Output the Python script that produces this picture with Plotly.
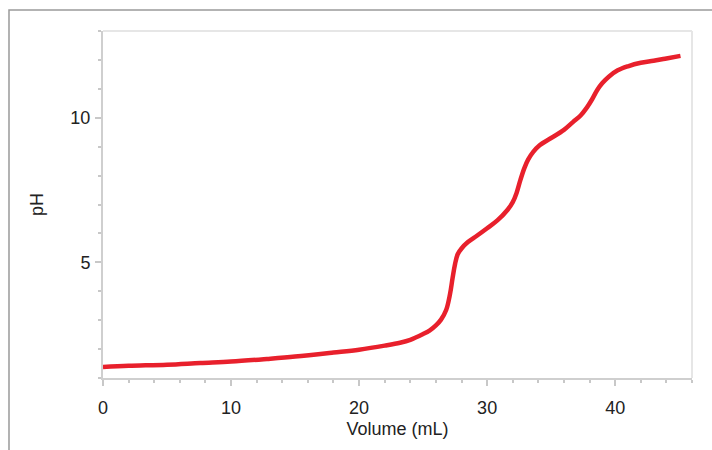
import plotly.graph_objects as go

volume_ml = [0, 2, 5, 7.6, 10, 12.8, 15, 18, 20, 22, 23.2, 24, 25, 25.5, 26, 26.4, 26.8, 27.1, 27.3, 27.5,
             27.7, 28, 28.5, 29.2, 30, 30.8, 31.6, 32, 32.3, 32.6, 32.9, 33.2, 33.6, 34.1, 35, 36, 36.7,
             37.3, 37.8, 38.2, 38.6, 39, 39.5, 40.2, 41, 42, 43, 44, 45.1]
ph_values = [1.38, 1.42, 1.46, 1.52, 1.57, 1.66, 1.74, 1.88, 1.98, 2.12, 2.22, 2.32, 2.52, 2.64, 2.82, 3.02, 3.35, 3.9, 4.45, 4.95,
             5.28, 5.48, 5.7, 5.92, 6.18, 6.45, 6.82, 7.08, 7.4, 7.85, 8.25, 8.55, 8.82, 9.05, 9.3, 9.58, 9.85,
             10.08, 10.36, 10.64, 10.96, 11.2, 11.42, 11.64, 11.78, 11.9, 11.97, 12.05, 12.14]

x_ticks = [0, 10, 20, 30, 40]
y_ticks = [5, 10]

FONT = "Liberation Sans, Arial, Helvetica, sans-serif"

fig = go.Figure()
fig.add_trace(go.Scatter(
    x=volume_ml, y=ph_values, mode="lines",
    line=dict(color="#e8202c", width=4.5, shape="spline", smoothing=1.0),
    hoverinfo="skip", showlegend=False,
))

axis_common = dict(
    showgrid=False, zeroline=False,
    showline=True, linecolor="#cfcfcf", linewidth=2,
    ticks="outside", tickcolor="#c8c8c8", ticklen=6, tickwidth=1.5,
    tickfont=dict(family=FONT, size=18, color="#222222"),
    mirror=False,
)

fig.update_layout(
    width=712, height=450,
    margin=dict(l=103, r=20, t=31, b=72),
    paper_bgcolor="white", plot_bgcolor="white",
    xaxis=dict(
        range=[0, 46], tickvals=x_ticks, ticklabelstandoff=6,
        minor=dict(dtick=2, ticks="outside", ticklen=3, tickcolor="#c8c8c8", tickwidth=1.5),
        title=dict(text="Volume (mL)", font=dict(family=FONT, size=18, color="#222222"), standoff=6),
        **axis_common,
    ),
    yaxis=dict(
        range=[1, 13], tickvals=y_ticks, ticklabelstandoff=1,
        minor=dict(dtick=1, ticks="outside", ticklen=3, tickcolor="#c8c8c8", tickwidth=1.5),
        title=dict(text="pH", font=dict(family=FONT, size=18, color="#222222"), standoff=22),
        **axis_common,
    ),
    shapes=[
        dict(type="rect", xref="paper", yref="paper", x0=-0.1596, x1=1.2, y0=-0.4, y1=1.0605,
             line=dict(color="#9a9a9a", width=1.5), layer="below"),
        dict(type="line", xref="paper", yref="paper", x0=0, x1=1, y0=1, y1=1,
             line=dict(color="#e6e6e6", width=2)),
        dict(type="line", xref="paper", yref="paper", x0=1, x1=1, y0=0, y1=1,
             line=dict(color="#e6e6e6", width=2)),
    ],
)

fig.write_html("out.html")
